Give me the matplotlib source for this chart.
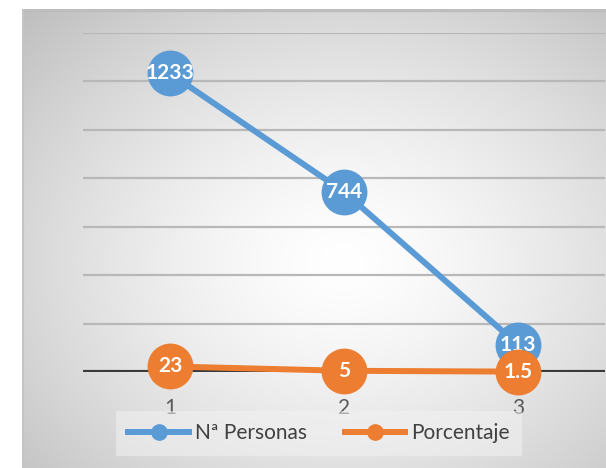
import numpy as np
import matplotlib.pyplot as plt
from matplotlib.lines import Line2D

categories = [1, 2, 3]
personas = [1233, 744, 113]
porcentaje = [23, 5, 1.5]
labels_personas = ['1233', '744', '113']
labels_porcentaje = ['23', '5', '1.5']

blue = '#5b9bd5'
orange = '#ed7d31'

plt.rcParams['font.family'] = ['Lato', 'DejaVu Sans']

fig = plt.figure(figsize=(6.06, 4.68), dpi=100)

# radial gradient background of the chart area
bg = fig.add_axes([22 / 606, 0, 584 / 606, 459 / 468])
bg.set_axis_off()
xx, yy = np.meshgrid(np.linspace(0, 1, 300), np.linspace(0, 1, 300))
r = np.sqrt(((xx - 0.55) / 0.7) ** 2 + ((yy - 0.55) / 0.7) ** 2)
r = np.clip(r, 0, 1.2)
shade = 1 - 0.22 * r ** 1.4
img = np.dstack([shade, shade, shade])
bg.imshow(img, extent=[0, 1, 0, 1], aspect='auto', origin='upper')
bg.set_xlim(0, 1)
bg.set_ylim(0, 1)
bg.plot([0, 1], [0.997, 0.997], color='#bdbdbd', lw=2.5)
bg.plot([0.002, 0.002], [0, 1], color='#c4c4c4', lw=1.5)

ax = fig.add_axes([83 / 606, (468 - 372) / 468, 522 / 606, 339 / 468])
ax.patch.set_alpha(0)
for s in ax.spines.values():
    s.set_visible(False)
ax.set_xlim(0.5, 3.5)
ax.set_ylim(0, 1400)
for g in range(200, 1401, 200):
    ax.axhline(g, color='#b8b8b8', lw=1.6, zorder=1)
ax.axhline(0, color='#3a3a3a', lw=3, zorder=2)

ax.plot(categories, personas, color=blue, lw=4.3, marker='o', ms=32,
        mec=blue, mfc=blue, zorder=3, clip_on=False)
ax.plot(categories, porcentaje, color=orange, lw=4.3, marker='o', ms=32,
        mec=orange, mfc=orange, zorder=5, clip_on=False)
for x, y, t in zip(categories, personas, labels_personas):
    ax.text(x, y, t, color='white', fontsize=15, fontweight='bold',
            ha='center', va='center', zorder=4)
for x, y, t in zip(categories, porcentaje, labels_porcentaje):
    ax.text(x, y, t, color='white', fontsize=15, fontweight='bold',
            ha='center', va='center', zorder=6)

ax.set_yticks([])
ax.set_xticks(categories)
ax.set_xticklabels([str(c) for c in categories], fontsize=15, color='#595959')
ax.tick_params(axis='x', length=0, pad=19)

handles = [Line2D([], [], color=blue, lw=4.3, marker='o', ms=11),
           Line2D([], [], color=orange, lw=4.3, marker='o', ms=11)]
leg = fig.legend(handles, ['Nª Personas', 'Porcentaje'], ncol=2,
                 loc='center', bbox_to_anchor=(319 / 606, 1 - 433 / 468),
                 fontsize=15, frameon=True, facecolor='#f2f2f2',
                 edgecolor='none', framealpha=0.55, handlelength=2.9,
                 columnspacing=1.8, handletextpad=0.3, borderpad=0.6,
                 borderaxespad=0, fancybox=False)
for t in leg.get_texts():
    t.set_color('#404040')

fig.savefig('out.png', dpi=100)
